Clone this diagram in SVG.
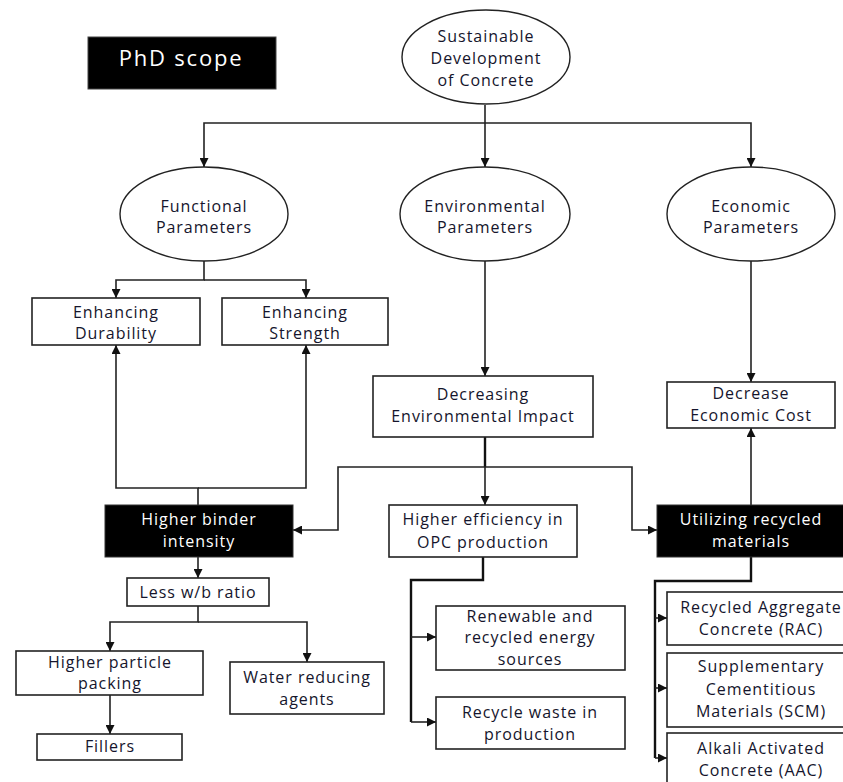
<svg xmlns="http://www.w3.org/2000/svg" width="843" height="782" viewBox="0 0 843 782">
<defs>
<style>
.bx{fill:#fff;stroke:#222;stroke-width:1.6}
.bk{fill:#000;stroke:#333;stroke-width:1}
.el{fill:#fff;stroke:#222;stroke-width:1.4}
text{font-family:"Open Sans","Liberation Sans",sans-serif;font-size:16px;letter-spacing:0.95px;fill:#15152c;text-anchor:middle}
.w{fill:#fff}
.c{fill:none;stroke:#222;stroke-width:1.6}
.t{fill:none;stroke:#111;stroke-width:2.4}
</style>
<marker id="ah" viewBox="0 0 10 10" refX="10" refY="5" markerWidth="9" markerHeight="9" markerUnits="userSpaceOnUse" orient="auto">
<path d="M0,0 L10,5 L0,10 z" fill="#111"/>
</marker>
</defs>
<rect width="843" height="782" fill="#fff"/>

<g id="connectors">
<path class="c" d="M485,105 V167" marker-end="url(#ah)"/>
<path class="c" d="M485,123 H204 V167" marker-end="url(#ah)"/>
<path class="c" d="M485,123 H751 V167" marker-end="url(#ah)"/>
<path class="c" d="M204,261 V280 H116 V298" marker-end="url(#ah)"/>
<path class="c" d="M204,280 H306 V298" marker-end="url(#ah)"/>
<path class="c" d="M485,261 V376" marker-end="url(#ah)"/>
<path class="c" d="M751,261 V382" marker-end="url(#ah)"/>
<path class="c" d="M198,505 V488 H116 V345" marker-end="url(#ah)"/>
<path class="c" d="M198,488 H306 V345" marker-end="url(#ah)"/>
<path class="t" d="M485,437 V467"/>
<path class="c" d="M485,467 V505" marker-end="url(#ah)"/>
<path class="c" d="M485,467 H338 V530 H293" marker-end="url(#ah)"/>
<path class="c" d="M485,467 H632 V530 H657" marker-end="url(#ah)"/>
<path class="c" d="M751,505 V428" marker-end="url(#ah)"/>
<path class="c" d="M198,557 V578" marker-end="url(#ah)"/>
<path class="c" d="M198,606 V622 H110 V651" marker-end="url(#ah)"/>
<path class="c" d="M198,622 H307 V662" marker-end="url(#ah)"/>
<path class="c" d="M110,695 V734" marker-end="url(#ah)"/>
<path class="t" d="M483,557 V580 H411 V722"/>
<path class="c" d="M411,722 H436" marker-end="url(#ah)"/>
<path class="c" d="M411,637 H436" marker-end="url(#ah)"/>
<path class="t" d="M751,557 V581 H655 V758"/>
<path class="c" d="M655,758 H667" marker-end="url(#ah)"/>
<path class="c" d="M655,618 H667" marker-end="url(#ah)"/>
<path class="c" d="M655,688 H667" marker-end="url(#ah)"/>
</g>

<g id="phd-scope">
<rect x="88" y="37" width="188" height="52" fill="#000" stroke="#444" stroke-width="1"/>
<text x="181" y="66" class="w" style="font-size:22px;letter-spacing:1.8px">PhD scope</text>
</g>

<g id="sustainable">
<ellipse class="el" cx="486" cy="57" rx="84" ry="47"/>
<text x="486" y="42">Sustainable</text>
<text x="486" y="64">Development</text>
<text x="486" y="86">of Concrete</text>
</g>

<g id="functional">
<ellipse class="el" cx="204" cy="214" rx="84" ry="47"/>
<text x="204" y="212">Functional</text>
<text x="204" y="233">Parameters</text>
</g>

<g id="environmental">
<ellipse class="el" cx="485" cy="214" rx="85" ry="47"/>
<text x="485" y="212">Environmental</text>
<text x="485" y="233">Parameters</text>
</g>

<g id="economic">
<ellipse class="el" cx="751" cy="214" rx="84" ry="47"/>
<text x="751" y="212">Economic</text>
<text x="751" y="233">Parameters</text>
</g>

<g id="durability">
<rect class="bx" x="32" y="298" width="168" height="47"/>
<text x="116" y="318">Enhancing</text>
<text x="116" y="339">Durability</text>
</g>

<g id="strength">
<rect class="bx" x="222" y="298" width="166" height="47"/>
<text x="305" y="318">Enhancing</text>
<text x="305" y="339">Strength</text>
</g>

<g id="decreasing-env">
<rect class="bx" x="373" y="376" width="220" height="61"/>
<text x="483" y="400">Decreasing</text>
<text x="483" y="422">Environmental Impact</text>
</g>

<g id="decrease-cost">
<rect class="bx" x="667" y="382" width="168" height="46"/>
<text x="751" y="399">Decrease</text>
<text x="751" y="421">Economic Cost</text>
</g>

<g id="binder">
<rect class="bk" x="105" y="505" width="188" height="52"/>
<text x="199" y="525" class="w">Higher binder</text>
<text x="199" y="547" class="w">intensity</text>
</g>

<g id="opc">
<rect class="bx" x="389" y="505" width="188" height="52"/>
<text x="483" y="525">Higher efficiency in</text>
<text x="483" y="548">OPC production</text>
</g>

<g id="recycled">
<rect class="bk" x="657" y="505" width="195" height="52"/>
<text x="751" y="525" class="w">Utilizing recycled</text>
<text x="751" y="547" class="w">materials</text>
</g>

<g id="wb">
<rect class="bx" x="127" y="578" width="142" height="28"/>
<text x="198" y="598">Less w/b ratio</text>
</g>

<g id="packing">
<rect class="bx" x="16" y="651" width="187" height="44"/>
<text x="110" y="668">Higher particle</text>
<text x="110" y="689">packing</text>
</g>

<g id="water">
<rect class="bx" x="230" y="662" width="154" height="52"/>
<text x="307" y="683">Water reducing</text>
<text x="307" y="705">agents</text>
</g>

<g id="fillers">
<rect class="bx" x="37" y="734" width="145" height="26"/>
<text x="110" y="752">Fillers</text>
</g>

<g id="renewable">
<rect class="bx" x="436" y="606" width="189" height="64"/>
<text x="530" y="622">Renewable and</text>
<text x="530" y="643">recycled energy</text>
<text x="530" y="665">sources</text>
</g>

<g id="recycle-waste">
<rect class="bx" x="436" y="697" width="189" height="52"/>
<text x="530" y="718">Recycle waste in</text>
<text x="530" y="740">production</text>
</g>

<g id="rac">
<rect class="bx" x="667" y="592" width="190" height="53"/>
<text x="761" y="613">Recycled Aggregate</text>
<text x="761" y="635">Concrete (RAC)</text>
</g>

<g id="scm">
<rect class="bx" x="667" y="653" width="190" height="74"/>
<text x="761" y="672">Supplementary</text>
<text x="761" y="695">Cementitious</text>
<text x="761" y="717">Materials (SCM)</text>
</g>

<g id="aac">
<rect class="bx" x="667" y="733" width="190" height="60"/>
<text x="761" y="754">Alkali Activated</text>
<text x="761" y="776">Concrete (AAC)</text>
</g>
</svg>
